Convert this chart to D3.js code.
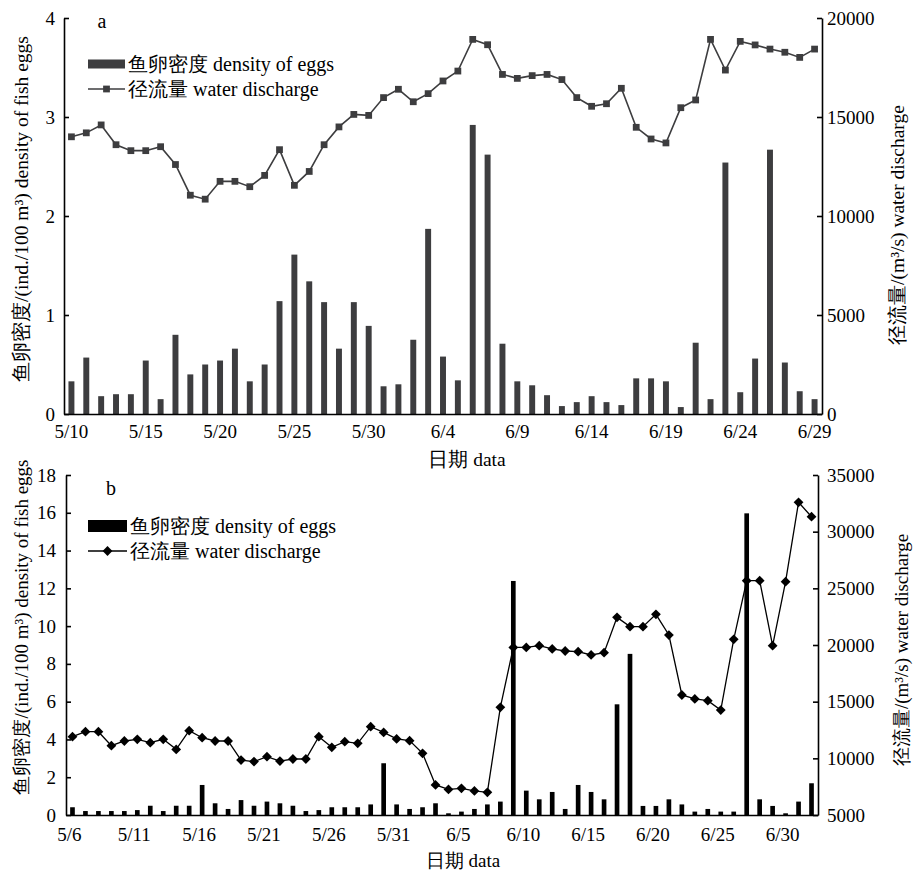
<!DOCTYPE html>
<html><head><meta charset="utf-8">
<script src="https://cdn.jsdelivr.net/npm/d3@7"></script>
<style>
html,body{margin:0;padding:0;background:#fff;}
</style></head>
<body><svg id="chart" width="914" height="876" font-family="Liberation Serif, Times New Roman, DejaVu Serif, serif"></svg>
<script>
// ---------- Panel a data ----------
const datesA = ["5/10","5/11","5/12","5/13","5/14","5/15","5/16","5/17","5/18","5/19","5/20","5/21","5/22","5/23","5/24","5/25","5/26","5/27","5/28","5/29","5/30","5/31",
"6/1","6/2","6/3","6/4","6/5","6/6","6/7","6/8","6/9","6/10","6/11","6/12","6/13","6/14","6/15","6/16","6/17","6/18","6/19","6/20","6/21","6/22","6/23","6/24","6/25","6/26","6/27","6/28","6/29"];
const eggsA = [0.33,0.57,0.18,0.20,0.20,0.54,0.15,0.80,0.40,0.50,
0.54,0.66,0.33,0.50,1.14,1.61,1.34,1.13,0.66,1.13,
0.89,0.28,0.30,0.75,1.87,0.58,0.34,2.92,2.62,0.71,
0.33,0.29,0.19,0.08,0.12,0.18,0.12,0.09,0.36,0.36,
0.33,0.07,0.72,0.15,2.54,0.22,0.56,2.67,0.52,0.23,0.15];
const waterA = [14000,14200,14600,13600,13300,13300,13500,12600,11050,10850,
11750,11750,11480,12050,13350,11550,12250,13600,14500,15130,
15080,15980,16400,15770,16180,16820,17320,18920,18650,17150,
16950,17090,17150,16890,15980,15540,15670,16450,14480,13890,
13690,15470,15860,18920,17370,18820,18640,18430,18270,18010,18430];
const xTicksA = ["5/10","5/15","5/20","5/25","5/30","6/4","6/9","6/14","6/19","6/24","6/29"];
const yLeftTicksA = [0,1,2,3,4];
const yRightTicksA = [0,5000,10000,15000,20000];

// ---------- Panel b data ----------
const datesB = ["5/6","5/7","5/8","5/9","5/10","5/11","5/12","5/13","5/14","5/15","5/16","5/17","5/18","5/19","5/20","5/21","5/22","5/23","5/24","5/25","5/26","5/27","5/28","5/29","5/30","5/31",
"6/1","6/2","6/3","6/4","6/5","6/6","6/7","6/8","6/9","6/10","6/11","6/12","6/13","6/14","6/15","6/16","6/17","6/18","6/19","6/20","6/21","6/22","6/23","6/24","6/25","6/26","6/27","6/28","6/29","6/30","7/1","7/2"];
const eggsB = [0.41,0.21,0.21,0.21,0.21,0.26,0.49,0.21,0.49,0.49,
1.59,0.62,0.32,0.79,0.49,0.71,0.62,0.49,0.21,0.26,
0.41,0.41,0.41,0.56,2.74,0.56,0.32,0.41,0.62,0.09,
0.18,0.32,0.56,0.71,12.39,1.29,0.83,1.22,0.32,1.59,
1.22,0.83,5.86,8.53,0.48,0.48,0.83,0.56,0.18,0.32,
0.18,0.18,15.97,0.83,0.48,0.09,0.71,1.68];
const waterB = [11910,12350,12350,11120,11530,11680,11380,11680,10790,12440,
11820,11530,11530,9850,9710,10150,9760,9940,9940,11910,
10970,11470,11320,12790,12290,11710,11560,10440,7650,7260,
7350,7120,7000,14500,19790,19790,19940,19650,19470,19410,
19120,19320,22440,21620,21620,22710,20880,15590,15240,15090,
14260,20500,25680,25680,19940,25590,32590,31320];
const xTicksB = ["5/6","5/11","5/16","5/21","5/26","5/31","6/5","6/10","6/15","6/20","6/25","6/30"];
const yLeftTicksB = [0,2,4,6,8,10,12,14,16,18];
const yRightTicksB = [5000,10000,15000,20000,25000,30000,35000];

const leftTitle = "鱼卵密度/(ind./100 m³) density of fish eggs";
const rightTitle = "径流量/(m³/s) water discharge";
const xTitle = "日期 data";
const legendEggs = "鱼卵密度 density of eggs";
const legendWater = "径流量 water discharge";

const FONT = "Liberation Serif, Times New Roman, DejaVu Serif, serif";
const svg = d3.select("#chart");
svg.append("rect").attr("width",914).attr("height",876).attr("fill","#fff");

function panel(c){
  const g = svg.append("g");
  const x = d3.scaleBand().domain(c.dates).range([c.x0,c.x1]).paddingInner(c.pad).paddingOuter(c.pad/2);
  const yL = d3.scaleLinear().domain(c.leftDomain).range([c.y0,c.y1]);
  const yR = d3.scaleLinear().domain(c.rightDomain).range([c.y0,c.y1]);

  g.append("g").selectAll("rect").data(c.eggs).join("rect")
    .attr("x",(d,i)=>x(c.dates[i]))
    .attr("width",x.bandwidth())
    .attr("y",d=>yL(d))
    .attr("height",d=>yL(0)-yL(d))
    .attr("fill",c.color);

  const line = d3.line().x((d,i)=>x(c.dates[i])+x.bandwidth()/2).y(d=>yR(d));
  g.append("path").datum(c.water).attr("d",line).attr("fill","none")
    .attr("stroke",c.color).attr("stroke-width",c.lineW);
  const sym = d3.symbol().type(d3.symbolSquare).size(c.markSize);
  g.append("g").selectAll("path").data(c.water).join("path")
    .attr("d",sym)
    .attr("transform",(d,i)=>`translate(${x(c.dates[i])+x.bandwidth()/2},${yR(d)}) rotate(${c.markRot})`)
    .attr("fill",c.color);

  const fs = c.fs;
  const aL = g.append("g").attr("transform",`translate(${c.x0},0)`)
    .call(d3.axisLeft(yL).tickValues(c.leftTicks).tickSize(-5).tickSizeOuter(0).tickPadding(c.padL).tickFormat(d3.format("d")));
  const aR = g.append("g").attr("transform",`translate(${c.x1},0)`)
    .call(d3.axisRight(yR).tickValues(c.rightTicks).tickSize(-5).tickSizeOuter(0).tickPadding(c.padR).tickFormat(d3.format("d")));
  const aB = g.append("g").attr("transform",`translate(0,${c.y0})`)
    .call(d3.axisBottom(x).tickValues(c.xTicks).tickSize(0).tickPadding(c.padB));
  aB.selectAll(".tick").attr("transform",d=>`translate(${x(d)+x.bandwidth()/2+c.xShift},0)`);
  [aL,aR,aB].forEach(a=>{
    a.attr("font-family",FONT);
    a.selectAll("text").attr("font-size",fs).attr("fill","#000").style("font-family",FONT);
    a.selectAll("path,line").attr("stroke","#000").attr("stroke-width",1.6);
  });

  const T = (sel)=>sel.attr("font-family",FONT).style("font-family",FONT);
  T(g.append("text").attr("transform",`translate(${c.ltX},${c.ltY}) rotate(-90)`)
    .attr("text-anchor","middle").attr("font-size",c.tfs).text(leftTitle));
  T(g.append("text").attr("transform",`translate(${c.rtX},${c.rtY}) rotate(-90)`)
    .attr("text-anchor","middle").attr("font-size",c.tfs).text(rightTitle));
  T(g.append("text").attr("x",c.xtX).attr("y",c.xtY).attr("text-anchor","middle")
    .attr("font-size",c.tfs).text(xTitle));
  T(g.append("text").attr("x",c.labX).attr("y",c.labY).attr("text-anchor","middle")
    .attr("font-size",20).text(c.label));

  const lg = g.append("g");
  lg.append("rect").attr("x",c.legX).attr("y",c.legY1-c.swH/2).attr("width",c.swW).attr("height",c.swH).attr("fill",c.color);
  T(lg.append("text").attr("x",c.legX+c.swW+3).attr("y",c.legY1+7).attr("font-size",20).text(legendEggs));
  lg.append("line").attr("x1",c.legX).attr("x2",c.legX+c.swW).attr("y1",c.legY2).attr("y2",c.legY2)
    .attr("stroke",c.color).attr("stroke-width",c.lineW);
  lg.append("path").attr("d",sym).attr("transform",`translate(${c.legX+c.swW/2},${c.legY2}) rotate(${c.markRot})`).attr("fill",c.color);
  T(lg.append("text").attr("x",c.legX+c.swW+3).attr("y",c.legY2+7).attr("font-size",20).text(legendWater));
}

panel({
  dates:datesA, eggs:eggsA, water:waterA, xTicks:xTicksA,
  leftTicks:yLeftTicksA, rightTicks:yRightTicksA,
  leftDomain:[0,4], rightDomain:[0,20000],
  x0:64, x1:822, y0:414, y1:18, pad:0.6,
  color:"#3d3d3f", lineW:1.6, markSize:46, markRot:0,
  fs:19, tfs:19.5, padL:9, padR:5, padB:11, xShift:0,
  ltX:28, ltY:209, rtX:904, rtY:225, xtX:467, xtY:466,
  label:"a", labX:102, labY:28,
  legX:88, swW:37, swH:9, legY1:64, legY2:89
});

panel({
  dates:datesB, eggs:eggsB, water:waterB, xTicks:xTicksB,
  leftTicks:yLeftTicksB, rightTicks:yRightTicksB,
  leftDomain:[0,18], rightDomain:[5000,35000],
  x0:66, x1:818, y0:815, y1:475, pad:0.64,
  color:"#000", lineW:1.3, markSize:48, markRot:45,
  fs:19, tfs:19, padL:10, padR:9, padB:13, xShift:-3,
  ltX:28, ltY:627, rtX:908, rtY:650, xtX:463, xtY:867,
  label:"b", labX:111, labY:495,
  legX:88, swW:39, swH:12, legY1:526, legY2:551
});
</script></body></html>
